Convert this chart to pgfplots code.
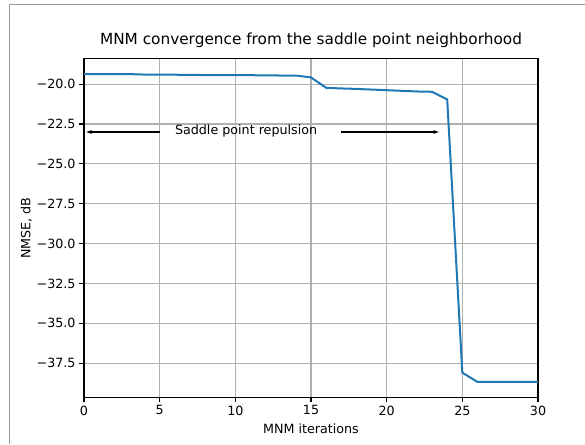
\documentclass[border=0pt]{standalone}
\usepackage{pgfplots}
\pgfplotsset{compat=1.18}
\usepackage{fontspec}
\setmainfont{DejaVu Sans}
\usetikzlibrary{arrows.meta}
\definecolor{mplblue}{HTML}{1F77B4}
\definecolor{mplgrid}{HTML}{B0B0B0}
\begin{document}
\begin{tikzpicture}[x=1pt,y=1pt]
\path[use as bounding box] (0,0) rectangle (585,444);
\draw[gray!80, line width=1pt] (9.5,0) -- (9.5,439.5) -- (585,439.5);
\begin{axis}[
  at={(84pt,46.7pt)}, anchor=south west,
  scale only axis, width=454pt, height=338.6pt,
  xmin=0, xmax=30, ymin=-39.635, ymax=-18.405,
  xtick={0,5,10,15,20,25,30},
  xticklabels={0,5,10,15,20,25,30},
  ytick={-20,-22.5,-25,-27.5,-30,-32.5,-35,-37.5},
  yticklabels={−20.0,−22.5,−25.0,−27.5,−30.0,−32.5,−35.0,−37.5},
  ticklabel style={font=\fontsize{12.7}{15}\selectfont},
  tick align=outside, major tick length=4.9pt,
  tick style={black, line width=1.1pt},
  xtick pos=bottom, ytick pos=left,
  axis line style={black, line width=1.1pt},
  grid=major, grid style={mplgrid, line width=1.1pt},
  title={MNM convergence from the saddle point neighborhood},
  title style={font=\fontsize{15.3}{18}\selectfont, at={(0.5,1)}, anchor=base, yshift=8pt},
  xlabel={MNM iterations}, ylabel={NMSE, dB},
  label style={font=\fontsize{12.7}{15}\selectfont},
  xlabel style={at={(0.5,0)}, anchor=base, yshift=-36pt},
  ylabel style={yshift=-2pt},
  clip=false,
]
\addplot[mplblue, line width=2pt] coordinates {
(0,-19.37) (1,-19.37) (2,-19.37) (3,-19.37) (4,-19.40) (5,-19.41)
(6,-19.41) (7,-19.42) (8,-19.43) (9,-19.43) (10,-19.44) (11,-19.44)
(12,-19.45) (13,-19.46) (14,-19.46) (15,-19.58) (16,-20.23) (17,-20.27)
(18,-20.30) (19,-20.34) (20,-20.38) (21,-20.42) (22,-20.46) (23,-20.48)
(24,-20.96) (25,-38.09) (26,-38.67) (27,-38.67) (28,-38.67) (29,-38.67) (30,-38.67)
};
\node[anchor=west, inner sep=0pt, font=\fontsize{12.7}{15}\selectfont] at (axis cs:6.0,-22.95) {Saddle point repulsion};
\draw[-{Latex[length=6pt,width=4pt]}, line width=1.1pt] (axis cs:5,-23.0) -- (axis cs:0.1,-23.0);
\draw[-{Latex[length=6pt,width=4pt]}, line width=1.1pt] (axis cs:17,-23.0) -- (axis cs:23.5,-23.0);
\end{axis}
\end{tikzpicture}
\end{document}
